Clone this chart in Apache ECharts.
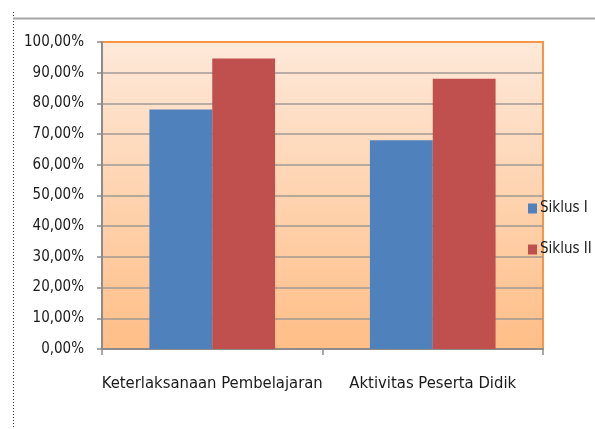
<!DOCTYPE html>
<html>
<head>
<meta charset="utf-8">
<script src="https://cdn.jsdelivr.net/npm/echarts@6/dist/echarts.min.js"></script>
<style>
  html, body { margin: 0; padding: 0; background: #fff; }
  #chart { width: 595px; height: 429px; }
</style>
</head>
<body>
<div id="chart"></div>
<script>
var categories = ['Keterlaksanaan Pembelajaran', 'Aktivitas Peserta Didik'];
var seriesNames = ['Siklus I', 'Siklus II'];
var siklus1 = [78, 68];
var siklus2 = [94.6, 88];
var yTicks = [0, 10, 20, 30, 40, 50, 60, 70, 80, 90, 100];

var font = '"Liberation Sans Narrow", "DejaVu Sans Condensed", "Noto Sans", sans-serif';

var chart = echarts.init(document.getElementById('chart'));

var option = {
  backgroundColor: '#ffffff',
  animation: false,
  color: ['#4F81BD', '#C0504D'],
  graphic: [
    // dotted frame line on the left
    { type: 'line', shape: { x1: 13.5, y1: 12, x2: 13.5, y2: 429 },
      style: { stroke: '#333', lineWidth: 1, lineDash: [1, 2] } },
    // grey line across the top
    { type: 'line', shape: { x1: 13, y1: 18.5, x2: 595, y2: 18.5 },
      style: { stroke: '#a6a6a6', lineWidth: 2 } }
  ],
  grid: {
    left: 102, top: 42, right: 52, bottom: 80,
    show: true,
    borderColor: '#F79646',
    borderWidth: 2,
    backgroundColor: new echarts.graphic.LinearGradient(0, 0, 0, 1, [
      { offset: 0, color: '#FEE9DA' },
      { offset: 1, color: '#FFBE86' }
    ])
  },
  legend: {
    orient: 'vertical',
    left: 523, top: 196,
    itemWidth: 9, itemHeight: 10, itemGap: 26,
    icon: 'rect',
    data: seriesNames,
    textStyle: { fontSize: 15, color: '#1a1a1a', fontFamily: font, padding: [0, 0, 0, -2] }
  },
  xAxis: {
    type: 'category',
    data: categories,
    z: 3,
    axisLine: { lineStyle: { color: '#8c8c8c', width: 2 } },
    axisTick: { show: true, length: 6, lineStyle: { color: '#8c8c8c', width: 1.5 } },
    axisLabel: { interval: 0, fontSize: 16.5, color: '#1a1a1a', fontFamily: font, margin: 26 }
  },
  yAxis: {
    type: 'value',
    min: 0, max: 100, interval: 10,
    z: 3,
    axisLine: { show: true, lineStyle: { color: '#8c8c8c', width: 2 } },
    axisTick: { show: true, length: 5, lineStyle: { color: '#8c8c8c', width: 1.5 } },
    splitLine: { showMaxLine: false, lineStyle: { color: '#a09a94', width: 1.5 } },
    axisLabel: {
      fontSize: 15, color: '#1a1a1a', fontFamily: font, margin: 18,
      customValues: yTicks,
      formatter: function (v) { return v.toFixed(2).replace('.', ',') + '%'; }
    }
  },
  series: [
    { name: seriesNames[0], type: 'bar', z: 5, data: siklus1, barGap: '0%', barCategoryGap: '43%' },
    { name: seriesNames[1], type: 'bar', z: 5, data: siklus2, barGap: '0%', barCategoryGap: '43%' }
  ]
};

chart.setOption(option);
</script>
</body>
</html>
